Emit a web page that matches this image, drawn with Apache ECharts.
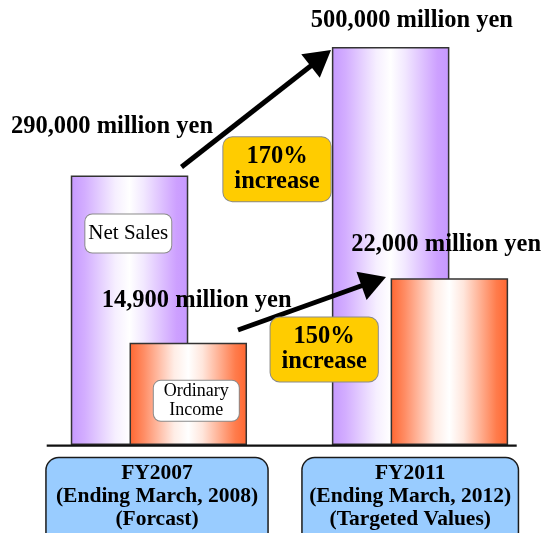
<!DOCTYPE html>
<html><head><meta charset="utf-8">
<script src="https://cdn.jsdelivr.net/npm/echarts@6/dist/echarts.min.js"></script>
<style>html,body{margin:0;padding:0;background:#fff}#c{width:545px;height:533px}</style>
</head><body><div id="c"></div>
<script>
// ---- data ----
const categories = ['FY2007\n(Ending March, 2008)\n(Forcast)', 'FY2011\n(Ending March, 2012)\n(Targeted Values)'];
const seriesNames = ['Net Sales', 'Ordinary\nIncome'];
const netSales = [290000, 500000];      // million yen
const ordinaryIncome = [14900, 22000];  // million yen
const increaseLabels = ['170%\nincrease', '150%\nincrease'];
const unit = ' million yen';

// ---- presentation ----
const SERIF = "'Liberation Serif','Times New Roman',serif";
const fmt = v => v.toLocaleString('en-US') + unit;
const nsOffsets = [[-17.5, -35.6], [21.3, -13.6]];
const oiOffsets = [[8.4, -29.5], [-3.2, -20.5]];

const purple = {type:'linear',x:0,y:0,x2:1,y2:0,colorStops:[
  {offset:0,color:'#C699FF'},{offset:0.12,color:'#D3AEFF'},{offset:0.38,color:'#F6EFFF'},
  {offset:0.5,color:'#FFFFFF'},{offset:0.62,color:'#F2E8FF'},{offset:0.9,color:'#CDA0FF'},{offset:1,color:'#C699FF'}]};
const orange = {type:'linear',x:0,y:0,x2:1,y2:0,colorStops:[
  {offset:0,color:'#FF6630'},{offset:0.12,color:'#FF8C64'},{offset:0.38,color:'#FFEDE6'},
  {offset:0.5,color:'#FFFFFF'},{offset:0.62,color:'#FFE6DC'},{offset:0.9,color:'#FF7C4C'},{offset:1,color:'#FF6630'}]};

const valueLabel = {show:true, position:'top', distance:0, formatter:p=>fmt(p.value),
  fontFamily:SERIF, fontWeight:'bold', fontSize:24.5, lineHeight:26, color:'#000'};

function arrow(x1,y1,x2,y2,L,W,lw){
  const dx=x2-x1, dy=y2-y1, len=Math.hypot(dx,dy), ux=dx/len, uy=dy/len, px=-uy, py=ux;
  const bx=x2-ux*L, by=y2-uy*L;
  return [
    {type:'line', z:100, shape:{x1:x1,y1:y1,x2:bx+ux*3,y2:by+uy*3}, style:{stroke:'#000', lineWidth:lw}},
    {type:'polygon', z:100, shape:{points:[[x2,y2],[bx+px*W/2,by+py*W/2],[bx-px*W/2,by-py*W/2]]}, style:{fill:'#000'}}
  ];
}
function box(text,x,y,o){
  return {type:'text', z:101, style:Object.assign({text:text, x:x, y:y, align:'center', verticalAlign:'middle',
    fill:'#000', fontFamily:SERIF}, o)};
}

const chart = echarts.init(document.getElementById('c'), null, {renderer:'canvas'});
chart.setOption({
  animation:false,
  backgroundColor:'#fff',
  grid:[
    {left:28.35, width:522.2, top:35, bottom:88, outerBoundsMode:'none', containLabel:false},
    {left:30.4, width:506.4, top:35, bottom:88, outerBoundsMode:'none', containLabel:false}
  ],
  xAxis:[
    {gridIndex:0, type:'category', data:categories, show:false},
    {gridIndex:1, type:'category', data:[categories[0], {value:categories[1], textStyle:{width:201}}],
      axisLine:{show:false}, axisTick:{show:false}, splitLine:{show:false},
      axisLabel:{show:true, interval:0, margin:13.3, fontFamily:SERIF, fontWeight:'bold', fontSize:21.5,
        lineHeight:23.3, color:'#000', backgroundColor:'#99CCFF', borderColor:'#1a1a1a', borderWidth:1.5,
        borderRadius:12, width:206.6, padding:[3.4,7,14,7], align:'center', verticalAlign:'top', overflow:'none'}}
  ],
  yAxis:[
    {gridIndex:0, type:'value', min:-150000, max:519500, startValue:-150000, show:false},
    {gridIndex:0, type:'value', min:3650, max:48780, startValue:3650, show:false},
    {gridIndex:1, type:'value', show:false}
  ],
  series:[
    {name:seriesNames[0], type:'bar', xAxisIndex:0, yAxisIndex:0, barWidth:117.5, barGap:'-50%',
      itemStyle:{color:purple, borderColor:'#333', borderWidth:1.5},
      label:valueLabel,
      data:netSales.map((v,i)=>({value:v, label:{offset:nsOffsets[i]}}))},
    {name:seriesNames[1], type:'bar', xAxisIndex:0, yAxisIndex:1, barWidth:117.5, barGap:'-50%',
      itemStyle:{color:orange, borderColor:'#333', borderWidth:1.5},
      label:valueLabel,
      data:ordinaryIncome.map((v,i)=>({value:v, label:{offset:oiOffsets[i]}}))}
  ],
  graphic:[
    {type:'line', z:99, shape:{x1:46.7,y1:445.7,x2:516.7,y2:445.7}, style:{stroke:'#111', lineWidth:2.2}},
    ...arrow(181.5,167,331,50,26,30,5),
    ...arrow(238,330,386,277,26,30,5),
    box(seriesNames[0],128.3,233.5,{fontSize:21, lineHeight:24, padding:[7,3], backgroundColor:'#fff',
      borderColor:'#8a8a8a', borderWidth:1, borderRadius:7}),
    box(seriesNames[1],196.3,400.8,{fontSize:18, lineHeight:19, padding:[1,10], backgroundColor:'#fff',
      borderColor:'#8a8a8a', borderWidth:1, borderRadius:7}),
    box(increaseLabels[0],277,169.2,{fontSize:24.5, fontWeight:'bold', lineHeight:25, padding:[7,11],
      backgroundColor:'#FFCC00', borderColor:'#8a8a8a', borderWidth:1, borderRadius:9}),
    box(increaseLabels[1],324.2,349.5,{fontSize:24.5, fontWeight:'bold', lineHeight:25, padding:[7,11],
      backgroundColor:'#FFCC00', borderColor:'#8a8a8a', borderWidth:1, borderRadius:9})
  ]
});
</script></body></html>
